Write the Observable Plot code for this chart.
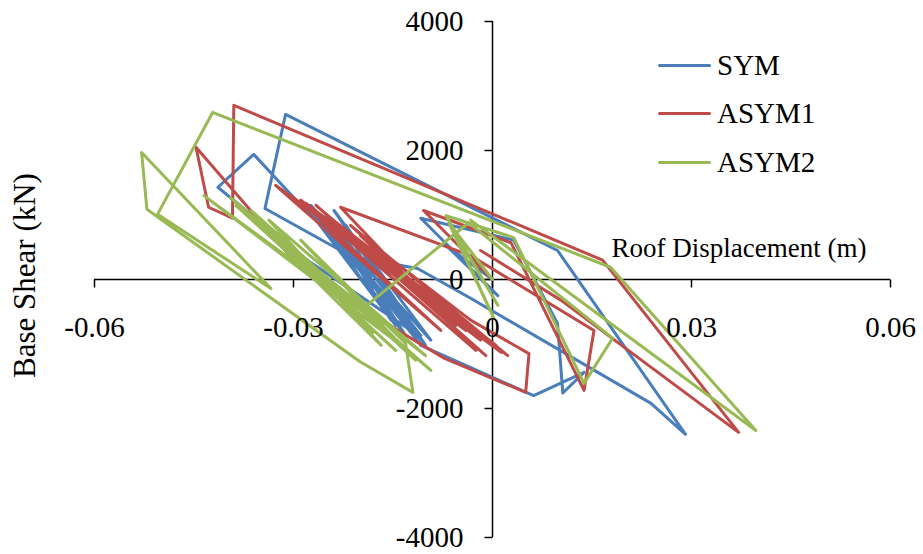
<!DOCTYPE html>
<html><head><meta charset="utf-8">
<script src="https://cdn.jsdelivr.net/npm/d3@7"></script>
<script src="https://cdn.jsdelivr.net/npm/@observablehq/plot@0.6"></script>
<style>
body{margin:0;background:#fff;}
#wrap{position:relative;width:923px;height:554px;font-family:"Liberation Serif","Times New Roman",serif;}
.leg{position:absolute;left:658px;height:30px;display:flex;align-items:center;font-size:29px;color:#000;line-height:30px;}
.leg .sw{width:53px;height:3px;border-radius:2px;margin-right:6px;}
</style></head><body><div id="wrap"></div>
<script>
const seriesNames = ["SYM", "ASYM1", "ASYM2"];
const seriesColors = ["#4A7EBB", "#BE4B48", "#98B954"];

// SYM (blue) roof displacement (m) / base shear (kN)
const symX = [0, -0.0070, 0.0008, -0.0108, 0.0032, 0.0098, 0.0106, 0.0138, 0.0062, -0.0108, -0.0274, -0.0093, -0.0239, -0.0116, -0.0278, -0.0138, -0.0259, -0.0101, -0.0221, -0.0153, -0.0251, -0.0108, -0.0232, -0.0131, -0.0266, -0.0146, -0.0229, -0.0343, -0.0312, 0.0098, 0.0291, 0.0239, -0.0033, -0.0113, -0.0203, -0.0289, -0.0360, -0.0414, -0.0289, -0.0123];
const symY = [0, 530, -250, 950, 610, -680, -1760, -1440, -1800, -1020, 1150, -940, 1070, -790, 1150, -600, 840, -1020, 840, -630, 990, -870, 760, -870, 920, -710, 450, 1100, 2560, 450, -2400, -1920, -290, 170, 340, 1150, 1940, 1430, 370, -790];

// ASYM1 (red)
const asym1X = [0, -0.0104, 0.0028, 0.0138, 0.0153, -0.0033, -0.0229, -0.0025, -0.0281, 0.0013, -0.0327, -0.0078, -0.0259, 0.0023, -0.0214, -0.0040, -0.0304, -0.0018, -0.0289, 0.0005, -0.0244, -0.0010, -0.0266, -0.0055, -0.0199, -0.0033, 0.0055, 0.0050, -0.0073, -0.0168, -0.0300, -0.0447, -0.0428, -0.0392, -0.0390, 0.0166, 0.0371, 0.0103, -0.0018];
const asym1Y = [0, 1070, 570, -1720, -790, 370, 1120, -1100, 1180, -1130, 1460, -790, 920, -1180, 840, -790, 1300, -940, 1230, -1020, 950, -1180, 1150, -710, 680, -630, -1150, -1750, -1220, -630, 300, 2050, 1120, 950, 2700, 300, -2370, -320, 450];

// ASYM2 (green)
const asym2X = [0, -0.0066, 0.0002, -0.0060, 0.0008, -0.0070, 0.0032, 0.0138, 0.0181, -0.0036, -0.0199, -0.0435, -0.0138, -0.0395, -0.0093, -0.0364, -0.0180, -0.0337, -0.0101, -0.0387, -0.0146, -0.0346, -0.0168, -0.0312, -0.0116, -0.0289, -0.0131, -0.0120, -0.0199, -0.0521, -0.0529, -0.0334, -0.0505, -0.0422, 0.0178, 0.0397, -0.0033];
const asym2Y = [0, 880, -600, 790, -400, 990, 650, -1610, -910, 880, -480, 1300, -1020, 1270, -1410, 1070, -820, 920, -1180, 1150, -1100, 790, -1020, 610, -1250, 610, -990, -1750, -1280, 1090, 1970, -140, 1010, 2590, 190, -2340, 920];

const xTicks = [-0.06, -0.03, 0, 0.03, 0.06];
const yTicks = [-4000, -2000, 0, 2000, 4000];
const xTitle = "Roof Displacement (m)";
const yTitle = "Base Shear (kN)";

const seriesX = [symX, asym1X, asym2X];
const seriesY = [symY, asym1Y, asym2Y];
const data = [];
seriesNames.forEach((name, k) => {
  seriesX[k].forEach((v, i) => data.push({series: name, x: v, y: seriesY[k][i]}));
});

const tickDown = {draw(ctx) { ctx.moveTo(0, 0); ctx.lineTo(0, 8); }};
const tickLeft = {draw(ctx) { ctx.moveTo(0, 0); ctx.lineTo(-8, 0); }};
const font = '"Liberation Serif","Times New Roman",serif';

const chart = Plot.plot({
  width: 923, height: 554,
  marginLeft: 94, marginRight: 33, marginTop: 21, marginBottom: 17,
  x: {domain: [-0.06, 0.06], axis: null},
  y: {domain: [-4000, 4000], axis: null},
  color: {domain: seriesNames, range: seriesColors},
  style: {fontFamily: font, background: "white", color: "black"},
  marks: [
    Plot.ruleY([0], {stroke: "black", strokeWidth: 1.5}),
    Plot.ruleX([0], {stroke: "black", strokeWidth: 1.5}),
    Plot.dot(xTicks, {x: d => d, y: 0, symbol: tickDown, stroke: "black", strokeWidth: 1.5}),
    Plot.dot(yTicks, {x: 0, y: d => d, symbol: tickLeft, stroke: "black", strokeWidth: 1.5}),
    Plot.line(data, {x: "x", y: "y", z: "series", stroke: "series", strokeWidth: 3, strokeLinejoin: "round", strokeLinecap: "round"}),
    Plot.text(xTicks, {x: d => d, y: 0, text: d => String(d), dy: 48, fontSize: 29, fill: "black"}),
    Plot.text(yTicks, {x: 0, y: d => d, text: d => String(d), textAnchor: "end", dx: -29, fontSize: 29, fill: "black"}),
    Plot.text([xTitle], {frameAnchor: "right", text: d => d, textAnchor: "end", dx: -24, dy: -31, fontSize: 27, fill: "black"}),
    Plot.text([yTitle], {frameAnchor: "left", text: d => d, textAnchor: "middle", rotate: -90, dx: -69, dy: -4, fontSize: 31, fill: "black"})
  ]
});
const wrap = document.getElementById("wrap");
wrap.appendChild(chart);
const legendY = [65, 113, 162];
seriesNames.forEach((name, k) => {
  const item = document.createElement("div");
  item.className = "leg";
  item.style.top = (legendY[k] - 15) + "px";
  const sw = document.createElement("div");
  sw.className = "sw";
  sw.style.background = seriesColors[k];
  const label = document.createElement("span");
  label.textContent = name;
  item.appendChild(sw);
  item.appendChild(label);
  wrap.appendChild(item);
});
</script></body></html>
